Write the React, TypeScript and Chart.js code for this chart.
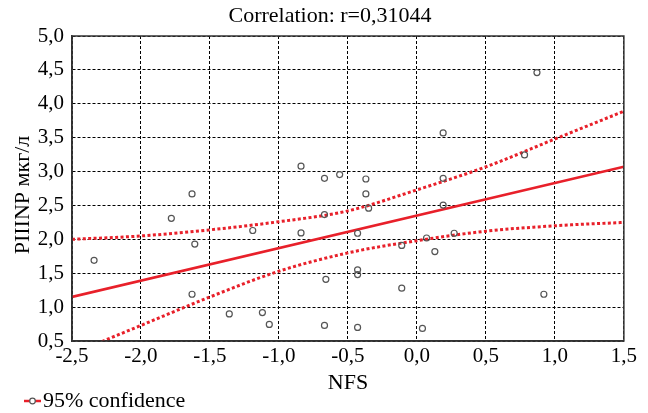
import React, { useEffect, useRef } from "react";
import { Chart, registerables } from "chart.js";

Chart.register(...registerables);

const titleText = "Correlation: r=0,31044";
const xAxisTitle = "NFS";
const yAxisTitle = "PIIINP мкг/л";
const legendText = "95% confidence";

const pointsX = [
  -2.34, -1.63, -1.78, -1.61, -1.19, -1.63, -1.36, -1.12, -1.07, -0.84, -0.67, -0.56,
  -0.37, -0.37, -0.35, -0.67, -0.84, -0.43, -0.11, 0.07, 0.13, 0.19, 0.19, 0.27,
  -0.43, -0.43, -0.66, -0.11, -0.67, -0.43, 0.04, 0.87, 0.19, 0.78, 0.92,
];
const pointsY = [
  1.69, 2.67, 2.31, 1.93, 2.13, 1.19, 0.9, 0.92, 0.745, 3.08, 2.9, 2.955,
  2.89, 2.67, 2.46, 2.365, 2.095, 2.09, 1.91, 2.02, 1.82, 2.9, 2.505, 2.09,
  1.55, 1.48, 1.41, 1.28, 0.73, 0.7, 0.685, 4.46, 3.57, 3.245, 1.19,
];

const fitX = [-2.5, 1.5];
const fitY = [1.15, 3.07];

const bandX = [-2.5, -2.0, -1.5, -1.0, -0.5, 0.0, 0.5, 1.0, 1.5];
const upperBand = [2.0, 2.05, 2.14, 2.26, 2.42, 2.73, 3.07, 3.48, 3.89];
const lowerBand = [0.31, 0.73, 1.15, 1.53, 1.8, 1.98, 2.12, 2.2, 2.25];

const xMin = -2.5;
const xMax = 1.5;
const yMin = 0.5;
const yMax = 5.0;
const tickStep = 0.5;

const RED = "#e8202a";
const FONT = "'Liberation Serif', 'Times New Roman', serif";

const fmt = (v: number) => Number(v).toFixed(1).replace(".", ",");

export default function App() {
  const ref = useRef<HTMLCanvasElement | null>(null);

  useEffect(() => {
    if (!ref.current) return;

    const framePlugin = {
      id: "frameAndText",
      afterDraw(chart: any) {
        const { ctx, chartArea } = chart;
        ctx.save();
        ctx.strokeStyle = "#333";
        ctx.lineWidth = 1.5;
        ctx.setLineDash([]);
        ctx.strokeRect(
          chartArea.left,
          chartArea.top,
          chartArea.right - chartArea.left,
          chartArea.bottom - chartArea.top
        );
        // title
        ctx.fillStyle = "#000";
        ctx.font = `22px ${FONT}`;
        ctx.textAlign = "center";
        ctx.textBaseline = "middle";
        ctx.fillText(titleText, 322, 8);
        // y axis title
        ctx.save();
        ctx.translate(15, 187);
        ctx.rotate(-Math.PI / 2);
        ctx.fillText(yAxisTitle, 0, 0);
        ctx.restore();
        // legend
        const ly = 393;
        ctx.strokeStyle = RED;
        ctx.lineWidth = 2.5;
        ctx.beginPath();
        ctx.moveTo(16, ly);
        ctx.lineTo(33, ly);
        ctx.stroke();
        ctx.fillStyle = "#fff";
        ctx.strokeStyle = "#555";
        ctx.lineWidth = 1.2;
        ctx.beginPath();
        ctx.arc(24.5, ly, 2.8, 0, Math.PI * 2);
        ctx.fill();
        ctx.stroke();
        ctx.fillStyle = "#000";
        ctx.textAlign = "left";
        ctx.font = `22px ${FONT}`;
        ctx.fillText(legendText, 35, ly);
        ctx.restore();
      },
    };

    const chart = new Chart(ref.current, {
      type: "scatter",
      data: {
        datasets: [
          {
            label: "points",
            data: pointsX.map((x, i) => ({ x, y: pointsY[i] })),
            pointRadius: 3,
            pointBorderWidth: 1.2,
            pointBorderColor: "#555",
            pointBackgroundColor: "rgba(255,255,255,0)",
            showLine: false,
            order: 0,
          },
          {
            label: "fit",
            data: fitX.map((x, i) => ({ x, y: fitY[i] })),
            showLine: true,
            borderColor: RED,
            borderWidth: 2.6,
            pointRadius: 0,
            clip: 0,
            order: 1,
          },
          {
            label: "upper",
            data: bandX.map((x, i) => ({ x, y: upperBand[i] })),
            showLine: true,
            borderColor: RED,
            borderWidth: 3,
            borderDash: [3, 2.4],
            pointRadius: 0,
            cubicInterpolationMode: "monotone",
            clip: 0,
            order: 2,
          },
          {
            label: "lower",
            data: bandX.map((x, i) => ({ x, y: lowerBand[i] })),
            showLine: true,
            borderColor: RED,
            borderWidth: 3,
            borderDash: [3, 2.4],
            pointRadius: 0,
            cubicInterpolationMode: "monotone",
            clip: 0,
            order: 3,
          },
        ] as any,
      },
      options: {
        animation: false,
        responsive: false,
        layout: { padding: { top: 28, right: 16, left: 0, bottom: 8 } },
        plugins: {
          legend: { display: false },
          title: { display: false },
          tooltip: { enabled: false },
        },
        scales: {
          x: {
            type: "linear",
            min: xMin,
            max: xMax,
            afterFit: (s: any) => {
              s.height = 64;
            },
            ticks: {
              stepSize: tickStep,
              padding: 3,
              color: "#000",
              font: { family: FONT, size: 21 },
              callback: (v: any) => fmt(v),
              maxRotation: 0,
            },
            grid: {
              color: "#000",
              lineWidth: 1,
              drawTicks: false,
            },
            border: { display: true, color: "#333", width: 1.5, dash: [3, 2] },
            title: {
              display: true,
              text: xAxisTitle,
              color: "#000",
              font: { family: FONT, size: 22 },
              padding: { top: 0, bottom: 9 },
            },
          },
          y: {
            type: "linear",
            min: yMin,
            max: yMax,
            afterFit: (s: any) => {
              s.width = 64;
            },
            ticks: {
              stepSize: tickStep,
              padding: 8,
              color: "#000",
              font: { family: FONT, size: 21 },
              callback: (v: any) => fmt(v),
            },
            grid: {
              color: "#000",
              lineWidth: 1,
              drawTicks: false,
            },
            border: { display: true, color: "#333", width: 1.5, dash: [3, 2] },
            title: { display: false },
          },
        },
      },
      plugins: [framePlugin],
    } as any);

    return () => chart.destroy();
  }, []);

  return (
    <div style={{ width: 632, height: 405 }}>
      <canvas ref={ref} width={632} height={405} />
    </div>
  );
}
